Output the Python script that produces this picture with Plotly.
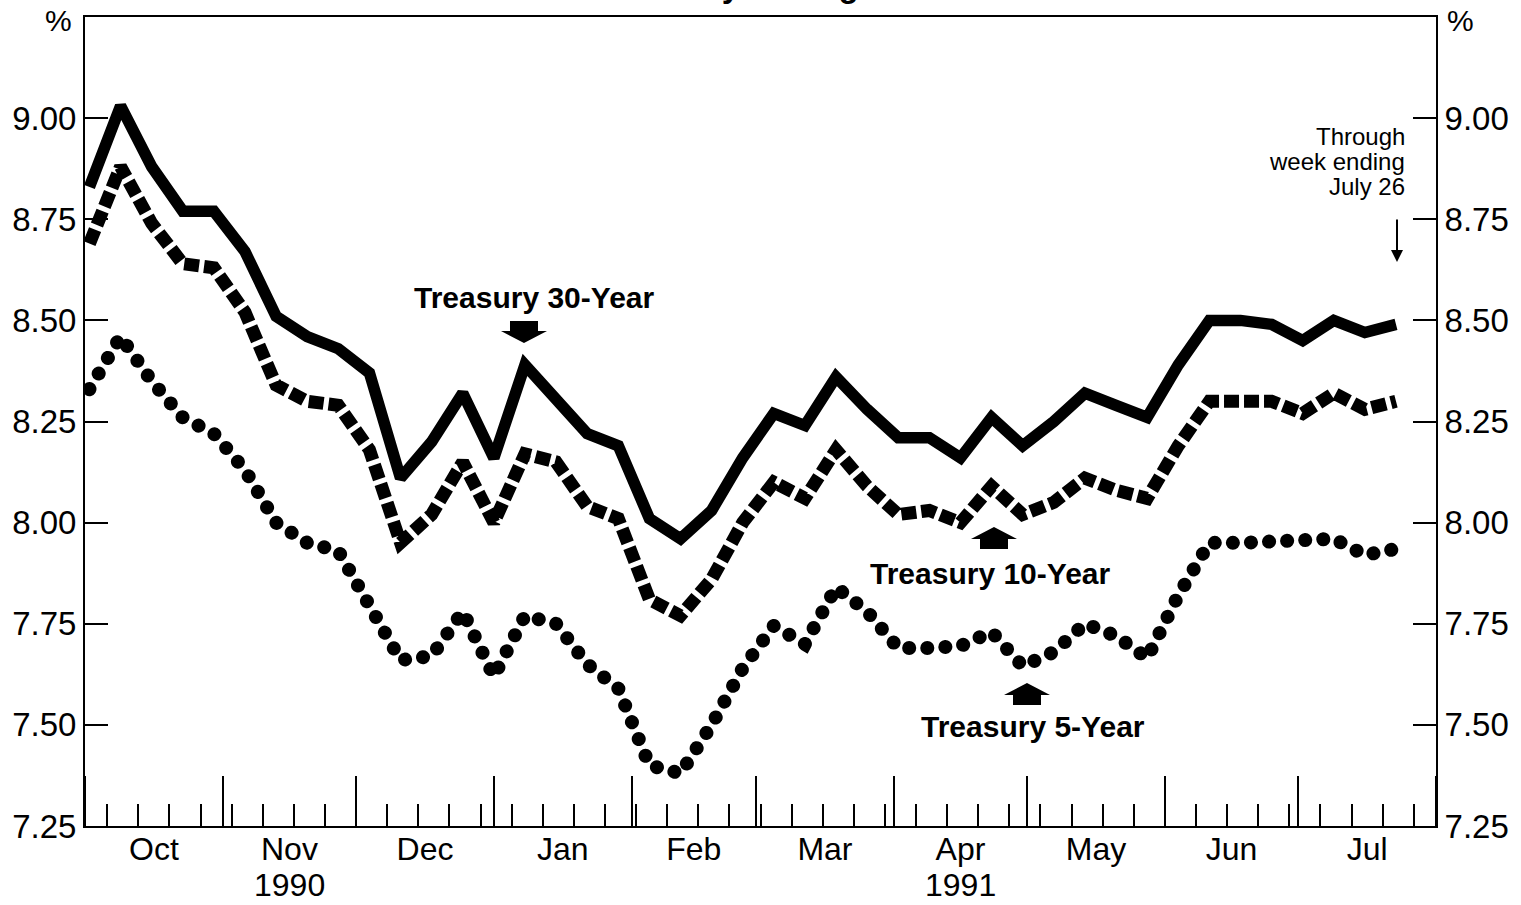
"""Treasury yields, weekly averages, Oct 1990 - Jul 1991."""

import pandas as pd
import plotly.graph_objects as go

# Weekly averages, plotted mid-week, through week ending July 26, 1991
weeks = pd.date_range("1990-10-02", periods=43, freq="7D")

t30 = [8.83, 9.03, 8.88, 8.77, 8.77, 8.67, 8.51, 8.46, 8.43, 8.37,
       8.11, 8.20, 8.32, 8.16, 8.39, 8.31, 8.22, 8.19, 8.01, 7.96,
       8.03, 8.16, 8.27, 8.24, 8.36, 8.28, 8.21, 8.21, 8.16, 8.26,
       8.19, 8.25, 8.32, 8.29, 8.26, 8.39, 8.50, 8.50, 8.49, 8.45,
       8.50, 8.47, 8.49]
t10 = [8.69, 8.88, 8.74, 8.64, 8.63, 8.52, 8.34, 8.30, 8.29, 8.18,
       7.95, 8.02, 8.15, 8.00, 8.17, 8.15, 8.04, 8.01, 7.81, 7.77,
       7.86, 8.00, 8.10, 8.06, 8.18, 8.09, 8.02, 8.03, 8.00, 8.09,
       8.02, 8.05, 8.11, 8.08, 8.06, 8.19, 8.30, 8.30, 8.30, 8.27,
       8.32, 8.28, 8.30]
t5 = [8.33, 8.46, 8.35, 8.26, 8.22, 8.13, 8.00, 7.95, 7.93, 7.80,
      7.66, 7.67, 7.78, 7.62, 7.77, 7.75, 7.65, 7.59, 7.40, 7.38,
      7.50, 7.64, 7.745, 7.70, 7.84, 7.78, 7.69, 7.69, 7.695, 7.73,
      7.645, 7.68, 7.75, 7.72, 7.665, 7.82, 7.95, 7.95, 7.955, 7.955,
      7.96, 7.92, 7.935]

y_ticks = [7.25, 7.50, 7.75, 8.00, 8.25, 8.50, 8.75, 9.00]
year_labels = [("1990-11-16", "1990"), ("1991-04-16", "1991")]
note_lines = ["Through", "week ending", "July 26"]

FONT = "Liberation Sans, Arial, Helvetica, sans-serif"
W, H = 1521, 905
L, R, T, B = 85, 85, 17, 79
PW, PH = W - L - R, H - T - B


def px(x):
    return (x - L) / PW


def py(y):
    return (H - B - y) / PH


def block_arrow(cx, tip, up):
    """Fat arrow (stem + head) as a paper-ref path, tip at (cx, tip) in pixels."""
    s = 1 if up else -1
    pts = [(cx - 14, tip + 22 * s), (cx + 14, tip + 22 * s), (cx + 14, tip + 12 * s),
           (cx + 23, tip + 12 * s), (cx, tip), (cx - 23, tip + 12 * s),
           (cx - 14, tip + 12 * s)]
    path = "M " + " L ".join(f"{px(a):.5f},{py(b):.5f}" for a, b in pts) + " Z"
    return dict(type="path", xref="paper", yref="paper", path=path,
                fillcolor="black", line=dict(width=0))


fig = go.Figure()

# 5-year first: its dashes get round caps in post_script -> dots
fig.add_trace(go.Scatter(x=weeks, y=t5, mode="lines", name="Treasury 5-Year",
                         line=dict(color="black", width=14, dash="0.1px,18px")))
fig.add_trace(go.Scatter(x=weeks, y=t10, mode="lines", name="Treasury 10-Year",
                         line=dict(color="black", width=13, dash="15px,5px")))
# on y2 (same range) so the right-hand axis gets drawn
fig.add_trace(go.Scatter(x=weeks, y=t30, mode="lines", name="Treasury 30-Year",
                         yaxis="y2", line=dict(color="black", width=11.5)))

ann = []
big = dict(family=FONT, size=30, color="black", weight="bold")
ann.append(dict(x=px(534), y=py(298), text="Treasury 30-Year", font=big))
ann.append(dict(x=px(991), y=py(573), text="Treasury 10-Year", font=big))
ann.append(dict(x=px(1033), y=py(726), text="Treasury 5-Year", font=big))

for i, line in enumerate(note_lines):
    ann.append(dict(x=px(1407), y=py(136 + 25.5 * i), text=line, xanchor="right",
                    font=dict(family=FONT, size=24, color="black")))

# thin arrow under the note
ann.append(dict(x=px(1397), y=py(262), text="", showarrow=True, ax=0, ay=-44,
                arrowhead=2, arrowsize=1.2, arrowwidth=2, arrowcolor="black"))

for x, txt in year_labels:
    ann.append(dict(x=x, xref="x", y=py(885), text=txt, borderpad=0,
                    font=dict(family=FONT, size=32, color="black")))

for x in (58, 1460):
    ann.append(dict(x=px(x), y=py(21), text="%",
                    font=dict(family=FONT, size=30, color="black")))

# title, mostly cut off at the top of the page
ann.append(dict(x=0.5, y=py(6), yanchor="bottom", text="Weekly Averages",
                font=dict(family=FONT, size=33, color="black", weight="bold")))

for a in ann:
    a.setdefault("xref", "paper")
    a.setdefault("yref", "paper")
    a.setdefault("xanchor", "center")
    a.setdefault("yanchor", "middle")
    a.setdefault("showarrow", False)

yax = dict(range=[7.25, 9.25], tickvals=y_ticks, tickformat=".2f",
           ticks="inside", ticklen=23, tickwidth=1.5, tickcolor="black",
           showline=True, linecolor="black", linewidth=2,
           showgrid=False, zeroline=False, automargin=False,
           tickfont=dict(family=FONT, size=33, color="black"))

fig.update_layout(
    template="none",
    width=W, height=H,
    margin=dict(l=L, r=R, t=T, b=B),
    paper_bgcolor="white", plot_bgcolor="white",
    showlegend=False,
    font=dict(family=FONT, color="black"),
    xaxis=dict(
        type="date", range=["1990-10-01", "1991-08-01"],
        dtick="M1", tick0="1990-10-01", tickformat="%b", ticklabelmode="period",
        ticks="inside", ticklen=50, tickwidth=1.5, tickcolor="black",
        minor=dict(dtick=7 * 86400000, tick0="1990-10-06", ticks="inside",
                   ticklen=22, tickwidth=1.5, tickcolor="black", showgrid=False),
        showline=True, linecolor="black", linewidth=2, mirror=True,
        showgrid=False, zeroline=False, automargin=False,
        ticklabelstandoff=-6,
        tickfont=dict(family=FONT, size=32, color="black"),
    ),
    yaxis=yax,
    yaxis2=dict(yax, overlaying="y", side="right"),
    shapes=[block_arrow(524, 343, up=False),
            block_arrow(994, 527, up=True),
            block_arrow(1027, 683, up=True)],
    annotations=ann,
)

post = """
document.body.style.margin = '0';
var gd = document.getElementById('{plot_id}');
var tr = gd.querySelectorAll('.scatterlayer .trace');
tr[0].querySelectorAll('path.js-line').forEach(function (p) {
    p.style.strokeLinecap = 'round';
});
"""

fig.write_html("out.html", post_script=post, config={"displayModeBar": False})
